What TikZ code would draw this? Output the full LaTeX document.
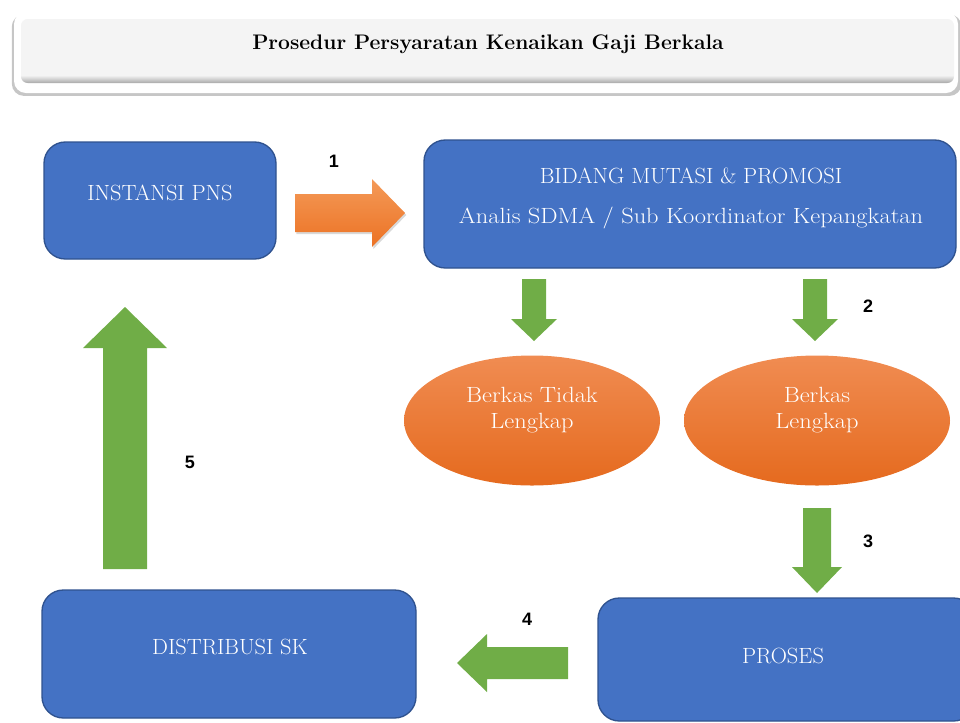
\documentclass[tikz,border=0pt]{standalone}
\usepackage{fontspec}
\newfontfamily\numfont{Liberation Sans}
\newfontfamily\capsfont{Latin Modern Roman}[FakeStretch=1.02]
\newfontfamily\lowfont{Latin Modern Roman}[FakeStretch=1.11]
\usetikzlibrary{calc,shapes.geometric,shadows}
\definecolor{boxblue}{HTML}{4472C4}
\definecolor{boxedge}{HTML}{2F528F}
\definecolor{agreen}{HTML}{70AD47}
\definecolor{ovaltop}{HTML}{F08C52}
\definecolor{ovalbot}{HTML}{E56A1E}
\definecolor{arrtop}{HTML}{F49A58}
\definecolor{arrbot}{HTML}{EC7224}
\definecolor{panel}{HTML}{F4F4F4}
\definecolor{panelrim}{HTML}{A8A8A8}
\pgfdeclareverticalshading{panelshade}{100bp}{color(0bp)=(panelrim); color(25bp)=(panelrim); color(31bp)=(panel); color(100bp)=(panel)}
\newcommand\blockarrow[6]{%
  \coordinate (baH) at ($(#2)!#5!(#1)$);
  \path[#6] ($(#1)!#3!90:(#2)$) -- ($(baH)!#3!90:(#2)$) -- ($(baH)!#4!90:(#2)$) -- (#2)
    -- ($(baH)!#4!-90:(#2)$) -- ($(baH)!#3!-90:(#2)$) -- ($(#1)!#3!-90:(#2)$) -- cycle;}
\tikzset{
  bluebox/.style={draw=boxedge, line width=1pt, fill=boxblue, rounded corners=16pt, inner sep=0pt},
  boxtext/.style={text=white, font=\capsfont\fontsize{16.5}{19}\selectfont, inner sep=0pt},
  lowtext/.style={text=white, font=\lowfont\fontsize{16.5}{19}\selectfont, inner sep=0pt},
  oval/.style={ellipse, draw=none, top color=ovaltop, bottom color=ovalbot, inner sep=0pt},
  ovaltext/.style={text=white, font=\lowfont\fontsize{16.5}{19.5}\selectfont, align=center, inner sep=0pt},
  numlabel/.style={font=\numfont\bfseries\fontsize{13.5}{16}\selectfont, inner sep=0pt},
  greenarrow/.style={fill=agreen},
  orangearrow/.style={top color=arrtop, bottom color=arrbot, drop shadow={opacity=0.3, shadow xshift=1pt, shadow yshift=-1.5pt}}
}
\begin{document}
\begin{tikzpicture}[x=0.75pt, y=-0.75pt]
\useasboundingbox (0,0) rectangle (960,722);
\clip (0,0) rectangle (960,722);
% title
\node[fill=white, rounded corners=9pt, minimum width=708pt, minimum height=60.75pt, inner sep=0pt,
  drop shadow={opacity=0.45, shadow xshift=0.5pt, shadow yshift=-2pt, shadow scale=1.006}] (titleframe) at (486,52.5) {};
\node[shading=panelshade, rounded corners=5pt, minimum width=699.75pt, minimum height=48pt, inner sep=0pt] (titlepanel) at (487.5,51) {};
\node[font=\bfseries\fontsize{15.8}{18}\selectfont, inner sep=0pt] (title) at (488,44) {Prosedur Persyaratan Kenaikan Gaji Berkala};
% boxes
\node[bluebox, minimum width=174pt, minimum height=87.75pt] (instansi) at (160,200.5) {};
\node[boxtext] (instansitext) at (160,193) {INSTANSI PNS};
\node[bluebox, minimum width=399pt, minimum height=96pt] (bidang) at (690,204) {};
\node[boxtext] (bidangtext1) at (691,176) {BIDANG MUTASI \& PROMOSI};
\node[lowtext] (bidangtext2) at (691,218) {Analis SDMA / Sub Koordinator Kepangkatan};
\node[bluebox, minimum width=280.5pt, minimum height=96pt] (distribusi) at (229,654) {};
\node[boxtext] (distribusitext) at (230,647) {DISTRIBUSI SK};
\node[bluebox, minimum width=282.75pt, minimum height=92.25pt] (proses) at (786.5,659.5) {};
\node[boxtext] (prosestext) at (783,656) {PROSES};
% ovals
\node[oval, minimum width=192pt, minimum height=97.5pt] (tidak) at (532,420.5) {};
\node[ovaltext] (tidaktext) at (532,410) {Berkas Tidak\\Lengkap};
\node[oval, minimum width=199.5pt, minimum height=97.5pt] (lengkap) at (817,420.5) {};
\node[ovaltext] (lengkaptext) at (817,410) {Berkas\\Lengkap};
% arrow end points
\coordinate (a1s) at (295,213);  \coordinate (a1e) at (405,213);
\coordinate (a2s) at (534,279);  \coordinate (a2e) at (534,341);
\coordinate (a2bs) at (815,279); \coordinate (a2be) at (815,341);
\coordinate (a3s) at (817,508);  \coordinate (a3e) at (817,593);
\coordinate (a4s) at (568,663);  \coordinate (a4e) at (457,663);
\coordinate (a5s) at (125,569);  \coordinate (a5e) at (125,307);
\blockarrow{a1s}{a1e}{14.25pt}{25.5pt}{24.75pt}{orangearrow}
\blockarrow{a2s}{a2e}{9pt}{17.25pt}{16.5pt}{greenarrow}
\blockarrow{a2bs}{a2be}{9pt}{17.25pt}{16.5pt}{greenarrow}
\blockarrow{a3s}{a3e}{10.5pt}{18.75pt}{19.5pt}{greenarrow}
\blockarrow{a4s}{a4e}{12pt}{21.75pt}{22.5pt}{greenarrow}
\blockarrow{a5s}{a5e}{16.5pt}{31.5pt}{30.75pt}{greenarrow}
% numbers
\node[numlabel] (n1) at (334,161) {1};
\node[numlabel] (n2) at (868,306) {2};
\node[numlabel] (n3) at (868,541) {3};
\node[numlabel] (n4) at (527,619) {4};
\node[numlabel] (n5) at (190,462) {5};
\end{tikzpicture}
\end{document}
